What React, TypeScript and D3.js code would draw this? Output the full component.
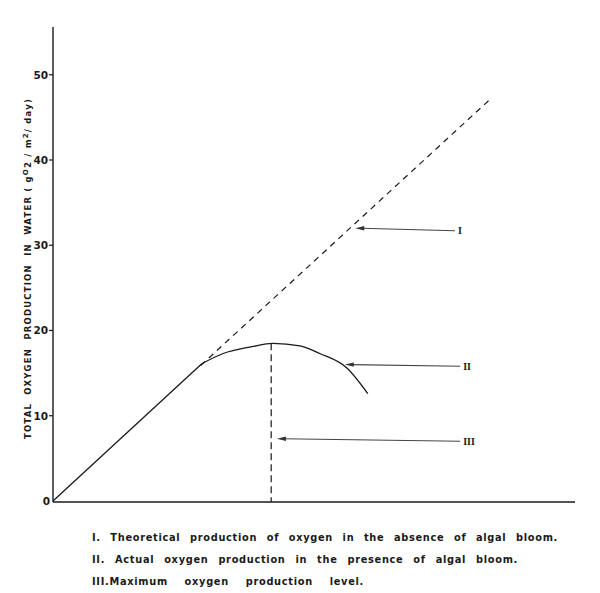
import { useEffect, useRef } from 'react';
import * as d3 from 'd3';

const Y_TICKS = [0, 10, 20, 30, 40, 50];
const Y_MAX = 55.6;
const X_MAX = 100;

// theoretical production (I), dashed beyond where curve II departs
const THEORY_X = [0, 28.3, 83.7];
const THEORY_Y = [0, 15.9, 47.1];
const DASH_FROM = 28.3;

// actual production (II): straight rise, then the bent part
const ACTUAL_X = [0, 28.5, 32.6, 38.1, 42.1, 47.3, 51.1, 56.3, 60.3];
const ACTUAL_Y = [0, 16.1, 17.3, 18.1, 18.5, 18.2, 17.3, 15.6, 12.6];
const BEND_FROM = 28.5;

// maximum level (III)
const MAX_X = 41.8;
const MAX_Y = 18.5;

const ARROW_LABELS = ['I', 'II', 'III'];
const ARROW_HEAD_X = [57.9, 55.9, 42.9];
const ARROW_HEAD_Y = [32.0, 16.0, 7.3];
const ARROW_TAIL_X = [77.0, 78.0, 78.0];
const ARROW_TAIL_Y = [31.7, 15.8, 7.0];

const LEGEND_LINES = [
  'I. Theoretical production of oxygen in the absence of algal bloom.',
  'II. Actual oxygen production in the presence of algal bloom.',
  'III.Maximum oxygen production level.',
];
const LEGEND_WIDTHS = [466, 426, 272];

const W = 600;
const H = 593;
const INK = '#1a1a1a';

export default function App() {
  const svgRef = useRef<SVGSVGElement | null>(null);

  useEffect(() => {
    if (!svgRef.current) return;
    const svg = d3.select(svgRef.current);
    svg.selectAll('*').remove();

    const x = d3.scaleLinear().domain([0, X_MAX]).range([53, 575]);
    const y = d3.scaleLinear().domain([0, Y_MAX]).range([501, 27]);

    svg.append('rect').attr('width', W).attr('height', H).attr('fill', '#fff');

    // Axes
    svg.append('line')
      .attr('x1', x(0)).attr('x2', x(0))
      .attr('y1', y(0) + 1).attr('y2', y(Y_MAX))
      .attr('stroke', INK).attr('stroke-width', 1.4);
    svg.append('line')
      .attr('x1', x(0)).attr('x2', x(X_MAX))
      .attr('y1', y(0) + 1).attr('y2', y(0) + 1)
      .attr('stroke', INK).attr('stroke-width', 1.4);

    const ticks = svg.append('g');
    Y_TICKS.forEach((t) => {
      if (t > 0) {
        ticks.append('line')
          .attr('x1', x(0) - 4).attr('x2', x(0))
          .attr('y1', y(t)).attr('y2', y(t))
          .attr('stroke', INK).attr('stroke-width', 1.2);
      }
      ticks.append('text')
        .attr('x', x(0) - (t > 0 ? 5 : 3))
        .attr('y', y(t) + 4)
        .attr('text-anchor', 'end')
        .attr('font-family', 'DejaVu Sans, sans-serif')
        .attr('font-weight', 'bold')
        .attr('font-size', 10.5)
        .attr('fill', INK)
        .text(String(t));
    });

    // Y label
    const lbl = svg.append('text')
      .attr('transform', `translate(31, ${y(27.2)}) rotate(-90)`)
      .attr('text-anchor', 'middle')
      .attr('font-family', 'DejaVu Sans, sans-serif')
      .attr('font-weight', 'bold')
      .attr('font-size', 8.5)
      .attr('fill', INK)
      .attr('textLength', 340)
      .attr('lengthAdjust', 'spacing')
      .style('white-space', 'pre');
    lbl.append('tspan').text('TOTAL  OXYGEN  PRODUCTION  IN  WATER ( g');
    lbl.append('tspan').attr('dy', -3).attr('font-size', 7).text('O');
    lbl.append('tspan').attr('dy', 3).text('2 / m');
    lbl.append('tspan').attr('dy', -3).attr('font-size', 7).text('2');
    lbl.append('tspan').attr('dy', 3).text('/ day)');

    const lineGen = d3.line<[number, number]>().x((d) => x(d[0])).y((d) => y(d[1]));

    // I: theoretical
    const theory = THEORY_X.map((v, i) => [v, THEORY_Y[i]] as [number, number]);
    svg.append('path')
      .attr('d', lineGen(theory.filter((d) => d[0] >= DASH_FROM)))
      .attr('fill', 'none')
      .attr('stroke', INK)
      .attr('stroke-width', 1.2)
      .attr('stroke-dasharray', '6,5');

    // II: actual
    const actual = ACTUAL_X.map((v, i) => [v, ACTUAL_Y[i]] as [number, number]);
    svg.append('path')
      .attr('d', lineGen(actual.filter((d) => d[0] <= BEND_FROM)))
      .attr('fill', 'none')
      .attr('stroke', INK)
      .attr('stroke-width', 1.3);
    const curveGen = d3.line<[number, number]>()
      .x((d) => x(d[0])).y((d) => y(d[1]))
      .curve(d3.curveMonotoneX);
    svg.append('path')
      .attr('d', curveGen(actual.filter((d) => d[0] >= BEND_FROM)))
      .attr('fill', 'none')
      .attr('stroke', INK)
      .attr('stroke-width', 1.3);

    // III: maximum
    svg.append('line')
      .attr('x1', x(MAX_X)).attr('x2', x(MAX_X))
      .attr('y1', y(MAX_Y)).attr('y2', y(0) + 1)
      .attr('stroke', INK)
      .attr('stroke-width', 1.2)
      .attr('stroke-dasharray', '7,4');

    // Arrows
    ARROW_LABELS.forEach((lab, i) => {
      const hx = x(ARROW_HEAD_X[i]);
      const hy = y(ARROW_HEAD_Y[i]);
      const tx = x(ARROW_TAIL_X[i]);
      const ty = y(ARROW_TAIL_Y[i]);
      svg.append('line')
        .attr('x1', tx).attr('y1', ty).attr('x2', hx + 6).attr('y2', hy)
        .attr('stroke', '#444').attr('stroke-width', 1.1);
      svg.append('path')
        .attr('d', `M${hx},${hy}L${hx + 9},${hy - 2.2}L${hx + 9},${hy + 2.2}Z`)
        .attr('fill', '#333');
      svg.append('text')
        .attr('x', tx + 3)
        .attr('y', ty + 3.5)
        .attr('font-family', 'Liberation Serif, serif')
        .attr('font-weight', 'bold')
        .attr('font-size', 10)
        .attr('fill', INK)
        .text(lab);
    });

    // Legend text: natural letters, gaps widened between words
    LEGEND_LINES.forEach((s, i) => {
      const t = svg.append('text')
        .attr('x', 92)
        .attr('y', 541 + i * 22)
        .attr('font-family', 'DejaVu Sans, sans-serif')
        .attr('font-weight', 'bold')
        .attr('font-size', 9.8)
        .attr('letter-spacing', 0.7)
        .attr('fill', INK)
        .text(s);
      const node = t.node() as SVGTextElement;
      const natural = node.getComputedTextLength();
      const gaps = (s.match(/ /g) || []).length;
      if (gaps > 0 && natural < LEGEND_WIDTHS[i]) {
        t.attr('word-spacing', (LEGEND_WIDTHS[i] - natural) / gaps);
      }
    });
  }, []);

  return (
    <div style={{ position: 'absolute', left: 0, top: 0, width: W, height: H }}>
      <svg ref={svgRef} width={W} height={H} style={{ display: 'block' }} />
    </div>
  );
}
